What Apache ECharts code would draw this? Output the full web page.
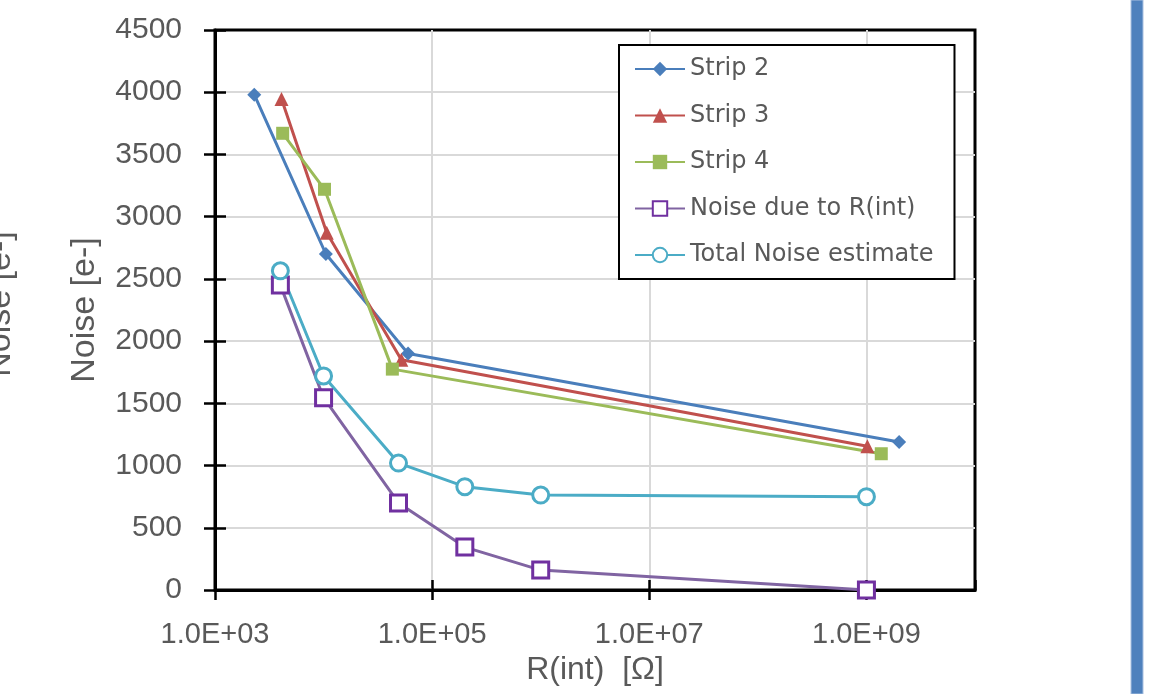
<!DOCTYPE html>
<html>
<head>
<meta charset="utf-8">
<script src="https://cdn.jsdelivr.net/npm/echarts@6/dist/echarts.min.js"></script>
<style>
  html, body { margin: 0; padding: 0; background: #fff; }
  #chart { width: 1164px; height: 694px; }
</style>
</head>
<body>
<div id="chart"></div>
<script>
// R(int) in ohm, noise in e-
var strip2R = [2.3e3, 1.05e4, 6.0e4, 2.0e9];
var strip2N = [3980, 2700, 1900, 1190];
var strip3R = [4.1e3, 1.07e4, 5.2e4, 1.02e9];
var strip3N = [3945, 2870, 1850, 1155];
var strip4R = [4.2e3, 1.02e4, 4.3e4, 1.37e9];
var strip4N = [3670, 3220, 1775, 1095];
var rintR = [4.0e3, 1.0e4, 4.9e4, 2.0e5, 1.0e6, 1.0e9];
var rintN = [2450, 1545, 700, 345, 160, 0];
var totalR = [4.0e3, 1.0e4, 4.9e4, 2.0e5, 1.0e6, 1.0e9];
var totalN = [2565, 1720, 1020, 830, 763, 750];
var seriesNames = ['Strip 2', 'Strip 3', 'Strip 4', 'Noise due to R(int)', 'Total Noise estimate'];

var textGrey = '#595959';
var font = 'Liberation Sans, Arial, sans-serif';

function pairs(xs, ys) {
  return xs.map(function (x, i) { return [x, ys[i]]; });
}

function expLabel(v) {
  var e = Math.round(Math.log10(v));
  return '1.0E+' + (e < 10 ? '0' : '') + e;
}

var chart = echarts.init(document.getElementById('chart'));

// second axes only carry the inner half of the crossing ticks
var xBase = {
  type: 'log',
  logBase: 10,
  min: 1e3,
  max: 1e10,
  interval: 2
};
var yBase = {
  type: 'value',
  min: 0,
  max: 4500,
  interval: 500
};

var option = {
  animation: false,
  backgroundColor: '#fff',
  grid: {
    left: 215, right: 189, top: 30, bottom: 104,
    show: true,
    borderColor: '#000',
    borderWidth: 3,
    backgroundColor: 'transparent'
  },
  legend: {
    orient: 'vertical',
    left: 619,
    top: 45,
    data: seriesNames,
    backgroundColor: '#fff',
    borderColor: '#000',
    borderWidth: 2,
    borderRadius: 0,
    padding: [12, 21, 12, 15],
    itemWidth: 50,
    itemHeight: 18,
    itemGap: 22.5,
    textStyle: { fontFamily: 'DejaVu Sans', fontSize: 24, color: textGrey, lineHeight: 24 }
  },
  xAxis: [
    Object.assign({}, xBase, {
      name: 'R(int)  [Ω]',
      nameLocation: 'middle',
      nameGap: 64,
      nameTextStyle: { fontFamily: font, fontSize: 32, color: textGrey },
      axisLine: { lineStyle: { color: '#000', width: 3 } },
      axisTick: { show: true, inside: false, length: 10, lineStyle: { color: '#000', width: 2.5 } },
      axisLabel: { margin: 30, fontFamily: font, fontSize: 29, color: textGrey, formatter: expLabel },
      splitLine: { show: true, showMinLine: false, showMaxLine: false, lineStyle: { color: '#d9d9d9', width: 2 } },
      minorTick: { show: false }
    }),
    Object.assign({}, xBase, {
      gridIndex: 0,
      position: 'bottom',
      axisLine: { show: false },
      axisTick: { show: true, inside: true, length: 10, lineStyle: { color: '#000', width: 2.5 } },
      axisLabel: { show: false },
      splitLine: { show: false }
    })
  ],
  yAxis: [
    Object.assign({}, yBase, {
      name: 'Noise [e-]',
      nameLocation: 'middle',
      nameGap: 113,
      nameTextStyle: { fontFamily: font, fontSize: 34, color: textGrey },
      axisLine: { show: true, lineStyle: { color: '#000', width: 3 } },
      axisTick: { show: true, inside: false, length: 11, lineStyle: { color: '#000', width: 2.5 } },
      axisLabel: { margin: 33, fontFamily: font, fontSize: 30, color: textGrey,
        formatter: function (v) { return String(v); } },
      splitLine: { show: true, showMinLine: false, showMaxLine: false, lineStyle: { color: '#d9d9d9', width: 2 } }
    }),
    Object.assign({}, yBase, {
      position: 'left',
      axisLine: { show: false },
      axisTick: { show: true, inside: true, length: 11, lineStyle: { color: '#000', width: 2.5 } },
      axisLabel: { show: false },
      splitLine: { show: false }
    })
  ],
  series: [
    {
      name: 'Strip 2', type: 'line', data: pairs(strip2R, strip2N),
      symbol: 'diamond', symbolSize: 14,
      lineStyle: { color: '#4a7ebb', width: 3 },
      itemStyle: { color: '#4a7ebb' }
    },
    {
      name: 'Strip 3', type: 'line', data: pairs(strip3R, strip3N),
      symbol: 'triangle', symbolSize: 14,
      lineStyle: { color: '#c0504d', width: 3 },
      itemStyle: { color: '#c0504d' }
    },
    {
      name: 'Strip 4', type: 'line', data: pairs(strip4R, strip4N),
      symbol: 'rect', symbolSize: 13,
      lineStyle: { color: '#9bbb59', width: 3 },
      itemStyle: { color: '#9bbb59' }
    },
    {
      name: 'Noise due to R(int)', type: 'line', data: pairs(rintR, rintN),
      symbol: 'rect', symbolSize: 16,
      lineStyle: { color: '#8064a2', width: 3 },
      itemStyle: { color: '#fff', borderColor: '#7030a0', borderWidth: 3 }
    },
    {
      name: 'Total Noise estimate', type: 'line', data: pairs(totalR, totalN),
      symbol: 'circle', symbolSize: 16,
      lineStyle: { color: '#4bacc6', width: 3 },
      itemStyle: { color: '#fff', borderColor: '#4bacc6', borderWidth: 3 }
    }
  ],
  graphic: [
    {
      type: 'text',
      x: 1, y: 304,
      rotation: Math.PI / 2,
      style: {
        text: 'Noise [e-]',
        fontFamily: font,
        fontSize: 34,
        fill: textGrey,
        align: 'center',
        verticalAlign: 'middle'
      }
    },
    {
      type: 'rect',
      shape: { x: 1131, y: 0, width: 12, height: 694 },
      style: { fill: '#4f81bd', stroke: '#a9c0e0', lineWidth: 1 }
    }
  ]
};

chart.setOption(option);
</script>
</body>
</html>
